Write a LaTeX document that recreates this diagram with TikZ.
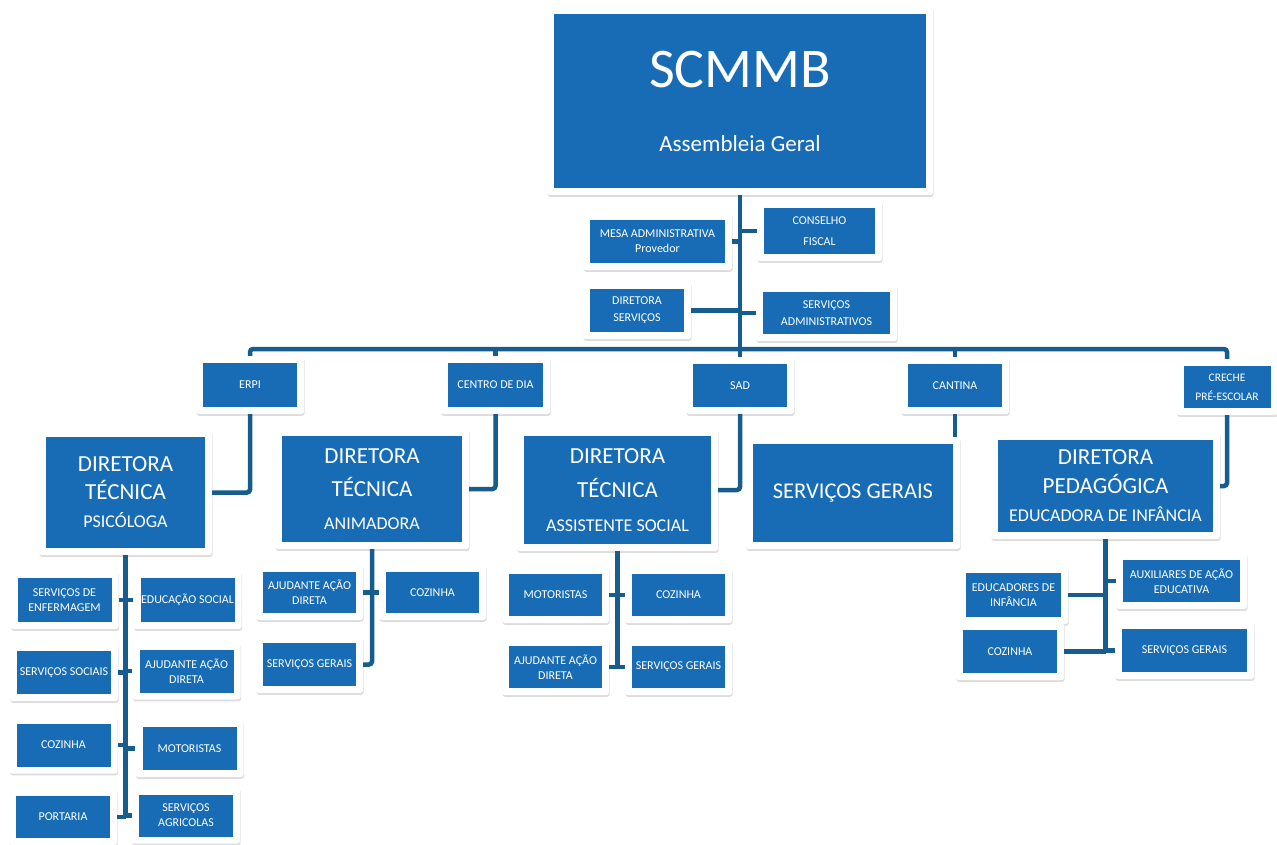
\documentclass[tikz,border=0pt]{standalone}
\usepackage{fontspec}
\setmainfont{Carlito}
\usetikzlibrary{shadows}
\definecolor{bl}{RGB}{24,108,182}
\definecolor{ln}{RGB}{22,92,140}
\tikzset{
  frame/.style={fill=white, rounded corners=2.5pt, inner sep=0pt, text=white, align=center,
    drop shadow={shadow xshift=0.6pt, shadow yshift=-1.8pt, opacity=0.28},
    path picture={\fill[bl,sharp corners] ([shift={(7pt,7pt)}]path picture bounding box.south west) rectangle ([shift={(-7pt,-7pt)}]path picture bounding box.north east);}},
  sm/.style={frame, font=\fontsize{12}{15}\selectfont},
  kid/.style={sm, minimum width=108pt, minimum height=57pt},
  dir/.style={frame, font=\fontsize{23}{#1}\selectfont},
  conn/.style={draw=ln, line width=4.5pt},
}
\begin{document}
\begin{tikzpicture}[x=1pt,y=-1pt]
\useasboundingbox (0,0) rectangle (1277,845);
% top level
\node[frame, minimum width=386pt, minimum height=188pt, font=\fontsize{23}{64}\selectfont] (top) at (740,101)
  {{\fontsize{56}{64}\selectfont SCMMB}\\Assembleia Geral};
\node[sm, minimum width=149pt, minimum height=57pt] (mesa) at (657.5,241.5) {MESA ADMINISTRATIVA\\Provedor};
\node[sm, minimum width=125pt, minimum height=60pt, font=\fontsize{12}{21}\selectfont] (conselho) at (819.5,231) {CONSELHO\\FISCAL};
\node[sm, minimum width=108pt, minimum height=57pt, font=\fontsize{12}{17}\selectfont] (dirserv) at (637,310.5) {DIRETORA\\SERVIÇOS};
\node[sm, minimum width=141pt, minimum height=56pt, font=\fontsize{12}{17}\selectfont] (servadm) at (826.5,313) {SERVIÇOS\\ADMINISTRATIVOS};
% second row
\node[sm, minimum width=108pt, minimum height=58pt] (erpi) at (250,385) {ERPI};
\node[sm, minimum width=109pt, minimum height=58pt] (cdia) at (495.5,385) {CENTRO DE DIA};
\node[sm, minimum width=108pt, minimum height=57pt] (sad) at (740,385.5) {SAD};
\node[sm, minimum width=108pt, minimum height=57pt] (cantina) at (955,385.5) {CANTINA};
\node[sm, minimum width=101pt, minimum height=56pt, font=\fontsize{11.5}{19}\selectfont] (creche) at (1227,387) {CRECHE\\PRÉ-ESCOLAR};
% directors
\node[dir=28, minimum width=173pt, minimum height=125pt] (psi) at (125.5,492.5)
  {DIRETORA\\TÉCNICA\\{\fontsize{18}{28}\selectfont PSICÓLOGA}};
\node[dir=33, minimum width=194pt, minimum height=120pt] (anim) at (372,489)
  {DIRETORA\\TÉCNICA\\{\fontsize{18}{33}\selectfont ANIMADORA}};
\node[dir=34, minimum width=201pt, minimum height=122pt] (asoc) at (617.5,490)
  {DIRETORA\\TÉCNICA\\{\fontsize{18}{34}\selectfont ASSISTENTE SOCIAL}};
\node[frame, minimum width=214pt, minimum height=112pt, font=\fontsize{22.5}{26}\selectfont] (sg) at (853,493) {SERVIÇOS GERAIS};
\node[dir=28.5, minimum width=229pt, minimum height=106pt] (dp) at (1105.5,486)
  {DIRETORA\\PEDAGÓGICA\\{\fontsize{18}{28.5}\selectfont EDUCADORA DE INFÂNCIA}};
% psicologa children
\node[kid, minimum height=58pt] (enf) at (64.5,600) {SERVIÇOS DE\\ENFERMAGEM};
\node[kid, minimum height=58pt] (edsoc) at (187.5,600) {EDUCAÇÃO SOCIAL};
\node[kid] (servsoc) at (64,672.5) {SERVIÇOS SOCIAIS};
\node[kid] (ajP) at (186.5,671) {AJUDANTE AÇÃO\\DIRETA};
\node[kid] (cozP) at (63.5,745) {COZINHA};
\node[kid] (motP) at (189.5,748.5) {MOTORISTAS};
\node[kid, minimum height=56pt] (port) at (63,817) {PORTARIA};
\node[kid, minimum height=56pt] (agr) at (186,815.5) {SERVIÇOS\\AGRICOLAS};
% animadora children
\node[kid, minimum width=107pt, minimum height=55pt] (ajA) at (309.5,592.5) {AJUDANTE AÇÃO\\DIRETA};
\node[kid, minimum width=107pt, minimum height=55pt] (cozA) at (432.5,592.5) {COZINHA};
\node[kid, minimum width=107pt] (sgA) at (309.5,664.5) {SERVIÇOS GERAIS};
% assistente social children
\node[kid, minimum width=107pt, minimum height=56pt] (motAS) at (555.5,595) {MOTORISTAS};
\node[kid, minimum width=107pt, minimum height=56pt] (cozAS) at (678.5,595) {COZINHA};
\node[kid, minimum width=107pt, minimum height=56pt] (ajAS) at (555.5,667) {AJUDANTE AÇÃO\\DIRETA};
\node[kid, minimum width=107pt, minimum height=56pt] (sgAS) at (678.5,667) {SERVIÇOS GERAIS};
% pedagogica children
\node[kid, minimum width=131pt, minimum height=56pt] (aux) at (1181.5,581) {AUXILIARES DE AÇÃO\\EDUCATIVA};
\node[kid, minimum width=109pt, minimum height=58pt] (edu) at (1013.5,595) {EDUCADORES DE\\INFÂNCIA};
\node[kid] (cozD) at (1010,651.5) {COZINHA};
\node[kid, minimum width=139pt] (sgD) at (1184.5,650.5) {SERVIÇOS GERAIS};
% connectors
\coordinate (bus) at (740,349);
\draw[conn] (top.south) -- (sad.north);
\draw[conn] (mesa.east) -- (mesa.east -| top.south);
\draw[conn] (conselho.west) -- (conselho.west -| top.south);
\draw[conn] (dirserv.east) -- (dirserv.east -| top.south);
\draw[conn] (servadm.west) -- (servadm.west -| top.south);
\draw[conn, rounded corners=3pt] (erpi.north) |- (bus) -| (creche.north);
\draw[conn] (cdia.north) -- (cdia.north |- bus);
\draw[conn] (cantina.north) -- (cantina.north |- bus);
\draw[conn, rounded corners=3pt] (erpi.south) |- (psi.east);
\draw[conn, rounded corners=3pt] (cdia.south) |- (anim.east);
\draw[conn, rounded corners=3pt] (sad.south) |- (asoc.east);
\draw[conn, rounded corners=3pt] (creche.south) |- (dp.east);
\draw[conn] (cantina.south) -- (cantina.south |- sg.north);
% psicologa tree
\draw[conn] (psi.south) -- (psi.south |- port.east);
\foreach \n in {enf,servsoc,cozP,port} \draw[conn] (\n.east) -- (\n.east -| psi.south);
\foreach \n in {edsoc,ajP,motP,agr} \draw[conn] (\n.west) -- (\n.west -| psi.south);
% animadora tree
\draw[conn, rounded corners=3pt] (anim.south) |- (sgA.east);
\draw[conn] (ajA.east) -- (ajA.east -| anim.south);
\draw[conn] (cozA.west) -- (cozA.west -| anim.south);
% assistente social tree
\draw[conn] (asoc.south) -- (asoc.south |- ajAS.east);
\foreach \n in {motAS,ajAS} \draw[conn] (\n.east) -- (\n.east -| asoc.south);
\foreach \n in {cozAS,sgAS} \draw[conn] (\n.west) -- (\n.west -| asoc.south);
% pedagogica tree
\draw[conn] (dp.south) -- (dp.south |- sgD.west);
\foreach \n in {edu,cozD} \draw[conn] (\n.east) -- (\n.east -| dp.south);
\foreach \n in {aux,sgD} \draw[conn] (\n.west) -- (\n.west -| dp.south);
\end{tikzpicture}
\end{document}
